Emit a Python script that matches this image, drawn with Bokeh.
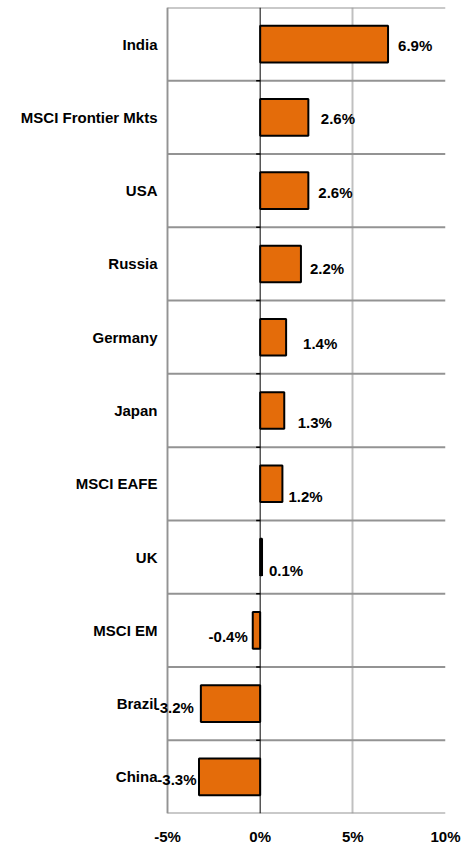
from bokeh.plotting import figure
from bokeh.models import FixedTicker, Span, Range1d, Label
from bokeh.core.properties import value
from bokeh.embed import file_html
from bokeh.resources import INLINE

categories = ["India", "MSCI Frontier Mkts", "USA", "Russia", "Germany", "Japan",
              "MSCI EAFE", "UK", "MSCI EM", "Brazil", "China"]
values = [6.9, 2.6, 2.6, 2.2, 1.4, 1.3, 1.2, 0.1, -0.4, -3.2, -3.3]
labels = ["6.9%", "2.6%", "2.6%", "2.2%", "1.4%", "1.3%", "1.2%", "0.1%", "-0.4%", "-3.2%", "-3.3%"]
x_ticks = [-5, 0, 5, 10]
x_tick_labels = ["-5%", "0%", "5%", "10%"]

# label placement styling (screen px)
label_dx = [10, 12.5, 10, 9, 17, 13.5, 6, 7, -5, -7, -2.5]
label_dy = [1, 1, 2, 5, 6, 12, 12.5, 13, 6, 4, 3]

FONT = "Liberation Sans"
FSIZE = "15px"
VGRID = "#C0C0C0"
HGRID = "#939393"
n = len(categories)
ys = [n - i - 0.5 for i in range(n)]
xmin, xmax = x_ticks[0], x_ticks[-1]
px_per_unit = 278 / (xmax - xmin)
label_room = 167  # px left of the plotting area for category names

p = figure(frame_width=445, frame_height=806, output_backend="svg", toolbar_location=None,
           x_range=Range1d(xmin - label_room / px_per_unit, xmax), y_range=Range1d(0, n),
           min_border_top=7, min_border_left=0, min_border_right=24, min_border_bottom=32)
p.outline_line_color = None
p.yaxis.visible = False
p.ygrid.visible = False

# vertical grid lines
p.xgrid.ticker = FixedTicker(ticks=[t for t in x_ticks if t != 0])
p.xgrid.grid_line_color = VGRID
p.xgrid.grid_line_width = 2
# left border a bit darker
p.add_layout(Span(location=xmin, dimension="height", line_color=HGRID, line_width=1.5))
# horizontal separators (incl. top/bottom border)
p.segment(x0=[xmin] * (n + 1), x1=[xmax] * (n + 1), y0=list(range(n + 1)), y1=list(range(n + 1)),
          line_color=HGRID, line_width=2)

p.hbar(y=ys, left=0, right=values, height=0.5, fill_color="#E46C0A",
       line_color="black", line_width=2)

# zero line and small ticks
p.add_layout(Span(location=0, dimension="height", line_color="black", line_width=1))
p.ray(x=[0] * (n - 1), y=list(range(1, n)), length=4, length_units="screen",
      angle=3.14159265, line_color="black", line_width=1.5)

# category names
p.text(x=[xmin] * n, y=ys, text=categories, x_offset=-10, text_align="right",
       text_baseline="middle", text_font=value(FONT), text_font_style="bold",
       text_font_size=FSIZE, text_color="black")

# value labels
for v, yy, t, dx, dy in zip(values, ys, labels, label_dx, label_dy):
    p.add_layout(Label(x=v, y=yy, text=t, x_offset=dx, y_offset=-dy,
                       text_align="left" if v >= 0 else "right", text_baseline="middle",
                       text_font=FONT, text_font_style="bold", text_font_size=FSIZE,
                       text_color="black"))

# x axis
p.xaxis.ticker = FixedTicker(ticks=x_ticks)
p.xaxis.major_label_overrides = {t: l for t, l in zip(x_ticks, x_tick_labels)}
p.xaxis.axis_line_color = None
p.xaxis.major_tick_line_color = None
p.xaxis.minor_tick_line_color = None
p.xaxis.major_tick_in = 0
p.xaxis.major_tick_out = 0
p.xaxis.major_label_text_font = FONT
p.xaxis.major_label_text_font_style = "bold"
p.xaxis.major_label_text_font_size = FSIZE
p.xaxis.major_label_text_color = "black"
p.xaxis.major_label_standoff = 14

open("out.html", "w").write(file_html(p, INLINE))
